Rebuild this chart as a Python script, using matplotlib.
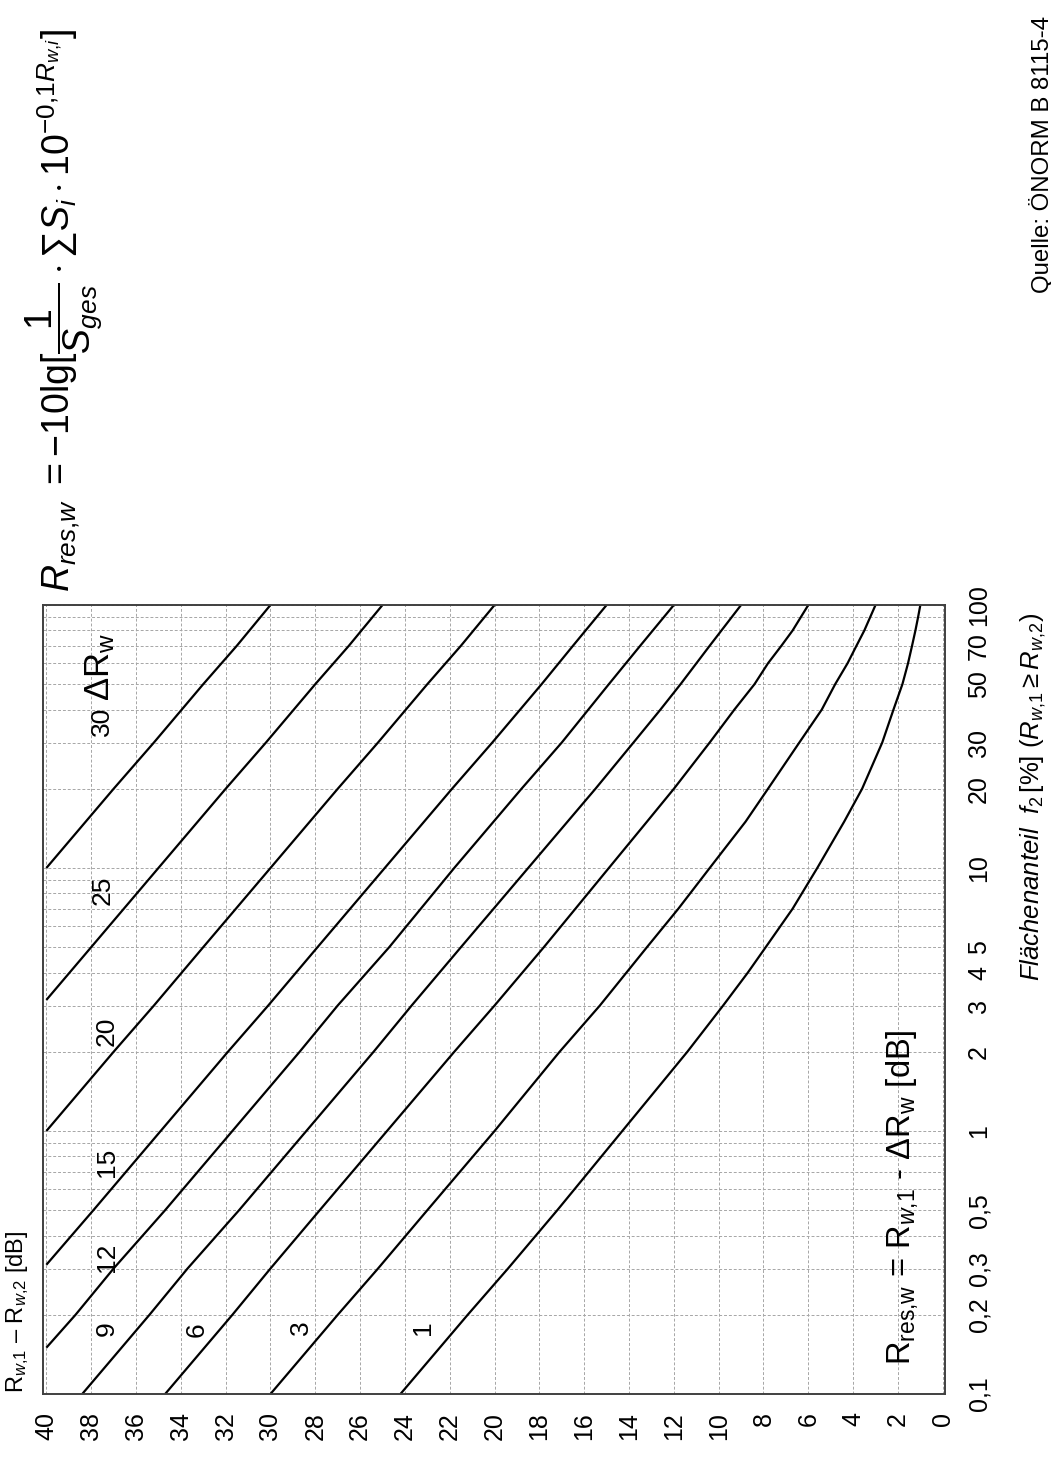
import matplotlib
matplotlib.use("Agg")
import matplotlib.pyplot as plt
from matplotlib.ticker import FixedLocator, FixedFormatter, LogLocator, NullFormatter

plt.rcParams['font.family'] = ['Liberation Sans', 'DejaVu Sans']
plt.rcParams['mathtext.fontset'] = 'custom'
plt.rcParams['mathtext.rm'] = 'Liberation Sans'
plt.rcParams['mathtext.it'] = 'Liberation Sans:italic'
plt.rcParams['mathtext.bf'] = 'Liberation Sans:bold'
plt.rcParams['mathtext.sf'] = 'Liberation Sans'

# area fraction f2 [%] and level difference R_w1 - R_w2 [dB]
f_1 = [0.1, 0.2, 0.3, 0.5, 1, 2, 3, 4, 5, 7, 10, 15, 20, 30, 40, 50, 60, 70, 80, 90, 100]
d_1 = [24.2, 21.2, 19.4, 17.2, 14.3, 11.4, 9.8, 8.7, 7.9, 6.7, 5.6, 4.4, 3.6, 2.7, 2.2, 1.8, 1.55, 1.37, 1.22, 1.1, 1.0]

f_3 = [0.1, 0.2, 0.3, 0.5, 1, 2, 3, 5, 7, 10, 15, 20, 30, 40, 50, 60, 70, 80, 100]
d_3 = [30.0, 27.0, 25.2, 23.0, 20.0, 17.1, 15.3, 13.2, 11.8, 10.4, 8.8, 7.8, 6.4, 5.4, 4.8, 4.25, 3.85, 3.5, 3.0]

f_6 = [0.1, 0.2, 0.3, 0.5, 1, 2, 3, 5, 10, 15, 20, 30, 40, 50, 60, 70, 80, 100]
d_6 = [34.7, 31.7, 30.0, 27.8, 24.8, 21.8, 20.0, 17.8, 14.9, 13.2, 12.0, 10.4, 9.3, 8.4, 7.8, 7.2, 6.7, 6.0]

f_9 = [0.1, 0.2, 0.3, 0.5, 1, 2, 3, 5, 10, 20, 30, 40, 50, 70, 100]
d_9 = [38.4, 35.4, 33.7, 31.4, 28.4, 25.4, 23.7, 21.5, 18.5, 15.5, 13.8, 12.6, 11.7, 10.4, 9.0]

f_12 = [0.15, 0.2, 0.3, 0.5, 1, 2, 3, 5, 10, 20, 30, 50, 70, 100]
d_12 = [40.0, 38.7, 37.0, 34.7, 31.7, 28.7, 27.0, 24.7, 21.8, 18.8, 17.0, 14.9, 13.5, 12.0]

f_15 = [0.31, 0.5, 1, 2, 3, 5, 10, 20, 30, 50, 70, 100]
d_15 = [40.0, 37.9, 34.9, 31.9, 30.1, 27.9, 24.9, 21.9, 20.1, 17.9, 16.5, 15.0]

f_20 = [1.0, 2, 3, 5, 10, 20, 30, 50, 70, 100]
d_20 = [40.0, 37.0, 35.2, 33.0, 30.0, 27.0, 25.2, 23.0, 21.5, 20.0]

f_25 = [3.15, 5, 10, 20, 30, 50, 70, 100]
d_25 = [40.0, 38.0, 35.0, 32.0, 30.2, 28.0, 26.5, 25.0]

f_30 = [10, 20, 30, 50, 70, 100]
d_30 = [40.0, 37.0, 35.2, 33.0, 31.5, 30.0]

delta_r = [1, 3, 6, 9, 12, 15, 20, 25, 30]
# where the curve numbers sit: (dB, f %)
label_db = [23.2, 28.65, 33.3, 37.3, 37.3, 37.3, 37.3, 37.5, 37.5]
label_f = [0.178, 0.178, 0.175, 0.178, 0.33, 0.76, 2.4, 8.2, 36.0]

db_ticks = list(range(0, 41, 2))
f_ticks = [0.1, 0.2, 0.3, 0.5, 1, 2, 3, 4, 5, 10, 20, 30, 50, 70, 100]
f_tick_labels = ['0,1', '0,2', '0,3', '0,5', '1', '2', '3', '4', '5', '10', '20', '30', '50', '70', '100']

curves = [(f_1, d_1), (f_3, d_3), (f_6, d_6), (f_9, d_9), (f_12, d_12),
          (f_15, d_15), (f_20, d_20), (f_25, d_25), (f_30, d_30)]

W, H = 1051, 1461
fig = plt.figure(figsize=(W / 100, H / 100), dpi=100)

# the sheet is turned: dB runs right-to-left along the bottom, f2 runs upward on a log scale
L, R, T, B = 43, 945, 605, 1394
ax = fig.add_axes([L / W, 1 - B / H, (R - L) / W, (B - T) / H])
ax.set_xlim(40.15, -0.1)
ax.set_yscale('log')
ax.set_ylim(0.1, 100)

ax.xaxis.set_major_locator(FixedLocator(db_ticks))
ax.set_xticklabels([str(v) for v in db_ticks], rotation=90, fontsize=18)
ax.yaxis.tick_right()
ax.yaxis.set_major_locator(FixedLocator(f_ticks))
ax.yaxis.set_major_formatter(FixedFormatter(f_tick_labels))
ax.yaxis.set_minor_locator(LogLocator(base=10, subs=range(2, 10)))
ax.yaxis.set_minor_formatter(NullFormatter())
for lab in ax.get_yticklabels():
    lab.set_rotation(90)
    lab.set_va('center')
    lab.set_fontsize(18)
ax.tick_params(axis='x', length=0, pad=13)
ax.tick_params(axis='y', which='both', length=0, pad=16)

ax.grid(True, axis='x', color='0.65', lw=0.7, ls=(0, (3, 2)))
ax.grid(True, axis='y', which='both', color='0.65', lw=0.7, ls=(0, (3, 2)))
for s in ax.spines.values():
    s.set_linewidth(1.4)
    s.set_color('0.25')

for f, d in curves:
    ax.plot(d, f, color='black', lw=1.6, solid_capstyle='butt')

for n, x, y in zip(delta_r, label_db, label_f):
    ax.text(x, y, str(n), rotation=90, ha='center', va='center', fontsize=19)

ax.text(37.6, 58, r'$\Delta\mathrm{R}_\mathrm{w}$', rotation=90, ha='center', va='center',
        fontsize=25)
ax.text(1.8, 0.129, r'R$_{\mathrm{res{,}w}}$ = R$_{w{,}1}$ - $\Delta$R$_{\mathrm{w}}$ [dB]',
        rotation=90, ha='center', va='bottom', fontsize=23.5)

fig.text(18 / W, 1 - 1393 / H, r'R$_{w{,}1}$ – R$_{w{,}2}$ [dB]', rotation=90,
         ha='center', va='bottom', fontsize=17)
fig.text(1033 / W, 1 - 797 / H, r'$Flächenanteil\ \ f_2\,$[%] $(R_{w{,}1}\geq R_{w{,}2})$',
         rotation=90, ha='center', va='center', fontsize=18.5)
fig.text(1041 / W, 1 - 293 / H, 'Quelle: ÖNORM B 8115-4', rotation=90,
         ha='center', va='bottom', fontsize=17.3)
fig.text(64 / W, 1 - 592 / H,
         r'$R_{res{,}w}\ = -10\mathrm{lg}[\dfrac{1}{S_{ges}}\cdot\sum S_i\cdot10^{-0{,}1R_{w{,}i}}]$',
         rotation=90, ha='center', va='bottom', fontsize=27)

fig.savefig('out.png', dpi=100, facecolor='white')
